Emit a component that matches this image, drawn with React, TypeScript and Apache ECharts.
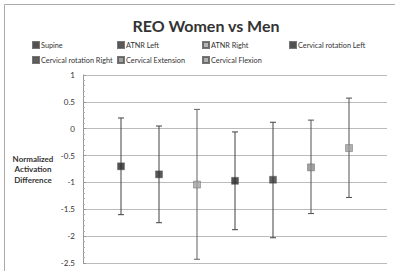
import React, { useEffect, useRef } from "react";
import * as echarts from "echarts";

const categories = [
  "Supine",
  "ATNR Left",
  "ATNR Right",
  "Cervical rotation Left",
  "Cervical rotation Right",
  "Cervical Extension",
  "Cervical Flexion",
];
const means = [-0.7, -0.85, -1.04, -0.97, -0.95, -0.72, -0.36];
const upper = [0.2, 0.05, 0.36, -0.06, 0.12, 0.16, 0.57];
const lower = [-1.6, -1.75, -2.43, -1.88, -2.03, -1.58, -1.28];
const colors = ["#262626", "#303030", "#a3a3a3", "#262626", "#383838", "#8a8a8a", "#9c9c9c"];
const barColors = ["#404040", "#404040", "#606060", "#404040", "#404040", "#505050", "#505050"];
const legendPos: [number, number][] = [
  [32, 41], [117, 41], [202, 41], [289, 41],
  [32, 56], [117, 56], [202, 56],
];

const FONT = "Lato, 'Open Sans', sans-serif";

export default function App() {
  const ref = useRef<HTMLDivElement>(null);
  useEffect(() => {
    if (!ref.current) return;
    const chart = echarts.init(ref.current, null, { renderer: "svg" });
    const series: any[] = [];
    categories.forEach((name, i) => {
      series.push({
        name,
        type: "scatter",
        symbol: "rect",
        symbolSize: 7,
        itemStyle: { color: colors[i], borderColor: "#555", borderWidth: 0.5 },
        data: [[i + 1, means[i]]],
        z: 5,
      });
      series.push({
        name: name + "_err",
        type: "custom",
        data: [[i + 1, lower[i], upper[i]]],
        z: 3,
        renderItem: (params: any, api: any) => {
          const x = api.value(0);
          const lo = api.coord([x, api.value(1)]);
          const hi = api.coord([x, api.value(2)]);
          const cap = 3;
          const st = { stroke: barColors[i], lineWidth: 1 };
          return {
            type: "group",
            children: [
              { type: "line", shape: { x1: lo[0], y1: lo[1], x2: hi[0], y2: hi[1] }, style: st },
              { type: "line", shape: { x1: lo[0] - cap, y1: lo[1], x2: lo[0] + cap, y2: lo[1] }, style: st },
              { type: "line", shape: { x1: hi[0] - cap, y1: hi[1], x2: hi[0] + cap, y2: hi[1] }, style: st },
            ],
          };
        },
      });
    });
    const legends = categories.map((name, i) => ({
      data: [name],
      left: legendPos[i][0],
      top: legendPos[i][1],
      icon: "rect",
      itemWidth: 6,
      itemHeight: 6,
      itemGap: 2,
      padding: 0,
      selectedMode: false,
      textStyle: { fontSize: 7.3, color: "#333", fontFamily: FONT, padding: [0, 0, 0, -3] },
    }));
    chart.setOption({
      animation: false,
      backgroundColor: "#fff",
      title: {
        text: "REO Women vs Men",
        left: 201,
        textAlign: "center",
        top: 12,
        textStyle: { fontSize: 16, fontWeight: "bold", color: "#333", fontFamily: FONT },
      },
      legend: legends,
      grid: { left: 83, right: 8, top: 75, bottom: 8, containLabel: false },
      xAxis: {
        type: "value",
        min: 0,
        max: 8,
        show: false,
      },
      yAxis: {
        type: "value",
        min: -2.5,
        max: 1,
        interval: 0.5,
        axisLine: { show: true, lineStyle: { color: "#999", width: 1 } },
        axisTick: { show: true, inside: true, length: 3, lineStyle: { color: "#999" } },
        minorTick: { show: true, splitNumber: 5, length: 2, lineStyle: { color: "#aaa" } },
        axisLabel: { fontSize: 8, color: "#333", fontFamily: FONT, margin: 8 },
        splitLine: { show: true, lineStyle: { color: "#bbb", width: 1 } },
      },
      graphic: [
        {
          type: "rect",
          shape: { x: 4.5, y: 4.5, width: 400, height: 280 },
          style: { fill: "none", stroke: "#aaa", lineWidth: 1 },
          silent: true,
        },
        {
          type: "text",
          x: 33,
          y: 169,
          style: {
            text: "Normalized\nActivation\nDifference",
            fontSize: 8,
            fontWeight: "bold",
            fill: "#333",
            fontFamily: FONT,
            align: "center",
            verticalAlign: "middle",
            lineHeight: 10.5,
          },
        },
      ],
      series,
    });
    return () => chart.dispose();
  }, []);
  return <div ref={ref} style={{ width: 395, height: 271, position: "absolute", left: 0, top: 0 }} />;
}
